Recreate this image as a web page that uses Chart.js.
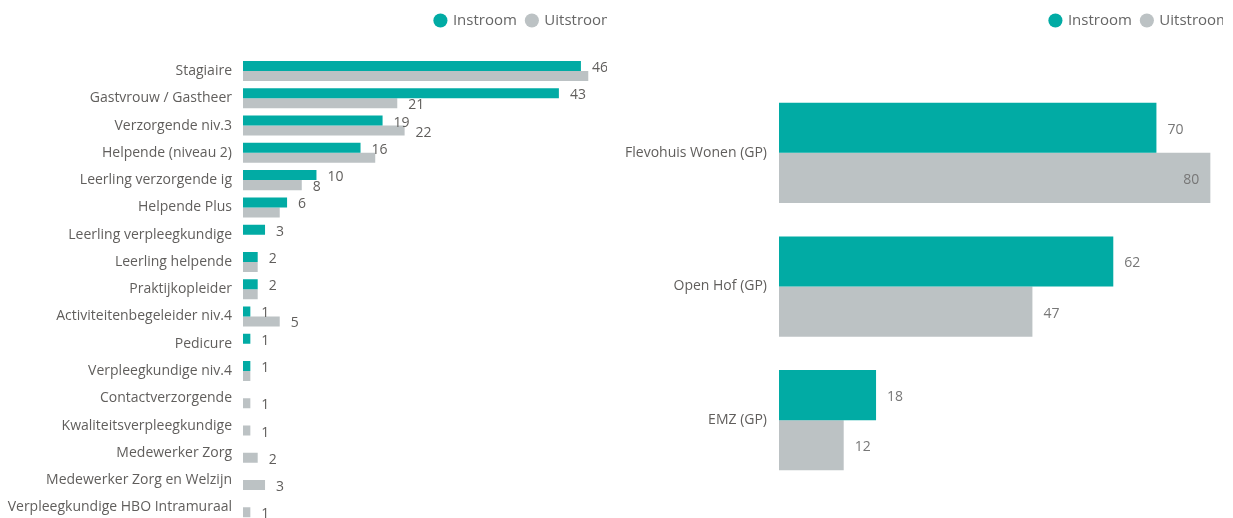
<!DOCTYPE html>
<html>
<head>
<meta charset="utf-8">
<script src="https://cdn.jsdelivr.net/npm/chart.js@4.4.1/dist/chart.umd.min.js"></script>
<style>
  html, body { margin: 0; padding: 0; background: #fff; width: 1233px; height: 518px; overflow: hidden; }
  .pane { position: absolute; top: 0; height: 518px; overflow: hidden; }
  #leftPane { left: 0; width: 607px; }
  #rightPane { left: 607px; width: 616px; }
  canvas { position: absolute; top: 0; }
</style>
</head>
<body>
<div class="pane" id="leftPane"><canvas id="roleChart" width="625" height="521" style="left:0"></canvas></div>
<div class="pane" id="rightPane"><canvas id="siteChart" width="628" height="518" style="left:5px"></canvas></div>
<script>
const seriesNames = ['Instroom', 'Uitstroom'];

const roleLabels = [
  'Stagiaire', 'Gastvrouw / Gastheer', 'Verzorgende niv.3', 'Helpende (niveau 2)',
  'Leerling verzorgende ig', 'Helpende Plus', 'Leerling verpleegkundige', 'Leerling helpende',
  'Praktijkopleider', 'Activiteitenbegeleider niv.4', 'Pedicure', 'Verpleegkundige niv.4',
  'Contactverzorgende', 'Kwaliteitsverpleegkundige', 'Medewerker Zorg',
  'Medewerker Zorg en Welzijn', 'Verpleegkundige HBO Intramuraal',
];
const roleInstroom = [46, 43, 19, 16, 10, 6, 3, 2, 2, 1, 1, 1, null, null, null, null, null];
const roleUitstroom = [47, 21, 22, 18, 8, 5, null, 2, 2, 5, null, 1, 1, 1, 2, 3, 1];

const siteLabels = ['Flevohuis Wonen (GP)', 'Open Hof (GP)', 'EMZ (GP)'];
const siteInstroom = [70, 62, 18];
const siteUitstroom = [80, 47, 12];

const teal = '#01aba4';
const grey = '#bcc2c4';
const textGrey = '#605e5c';

Chart.defaults.font.family = "'Open Sans', sans-serif";

// legend gets a fixed height so the plot starts where the original does
const legendSpacer = {
  id: 'legendSpacer',
  beforeInit(chart, args, opts) {
    const fit = chart.legend.fit;
    chart.legend.fit = function () {
      fit.call(this);
      this.height = opts.height;
    };
  },
};

// value labels next to each bar, skipped when they would collide (like Power BI does)
const barValueLabels = {
  id: 'barValueLabels',
  afterDatasetsDraw(chart, args, opts) {
    const { ctx } = chart;
    ctx.save();
    ctx.font = opts.font;
    ctx.fillStyle = opts.color;
    ctx.textBaseline = 'middle';
    const placed = [];
    chart.data.labels.forEach((label, i) => {
      chart.data.datasets.forEach((ds, di) => {
        const v = ds.data[i];
        if (v == null) return;
        const bar = chart.getDatasetMeta(di).data[i];
        const text = String(v);
        const w = ctx.measureText(text).width;
        let x = bar.x + opts.gap;
        if (x + w > opts.limit) x = bar.x - opts.gap - w;
        const box = { l: x - 1, r: x + w + 1, t: bar.y - opts.size / 2, b: bar.y + opts.size / 2 };
        if (placed.some((p) => box.l < p.r && box.r > p.l && box.t < p.b && box.b > p.t)) return;
        placed.push(box);
        ctx.fillText(text, x, bar.y + 2);
      });
    });
    ctx.restore();
  },
};

function makeChart(canvasId, cfg) {
  return new Chart(document.getElementById(canvasId), {
    type: 'bar',
    data: {
      labels: cfg.labels,
      datasets: [
        {
          label: seriesNames[0],
          data: cfg.instroom,
          backgroundColor: teal,
          borderWidth: 0,
          categoryPercentage: cfg.catPct,
          barPercentage: 1,
        },
        {
          label: seriesNames[1],
          data: cfg.uitstroom,
          backgroundColor: grey,
          borderWidth: 0,
          categoryPercentage: cfg.catPct,
          barPercentage: 1,
        },
      ],
    },
    options: {
      indexAxis: 'y',
      responsive: false,
      animation: false,
      events: [],
      layout: { padding: { top: 3, right: 0, bottom: cfg.bottomPad, left: 0 } },
      scales: {
        x: {
          display: false,
          min: 0,
          max: cfg.xMax,
        },
        y: {
          grid: { display: false, drawTicks: false },
          border: { display: false },
          ticks: {
            color: textGrey,
            padding: cfg.tickPad,
            font: { size: 14 },
            autoSkip: false,
          },
          afterFit: (scale) => {
            scale.width = cfg.axisWidth;
            scale.paddingTop = 0;
            scale.paddingBottom = 0;
          },
        },
      },
      plugins: {
        tooltip: { enabled: false },
        legend: {
          position: 'top',
          align: 'end',
          labels: {
            usePointStyle: true,
            pointStyle: 'circle',
            boxWidth: 10,
            boxHeight: 10,
            padding: 10,
            color: '#666',
            font: { size: 15 },
          },
        },
        legendSpacer: { height: cfg.legendHeight },
        barValueLabels: {
          font: "14px 'Open Sans', sans-serif",
          color: cfg.valueColor,
          gap: 11,
          size: 13,
          limit: cfg.labelLimit,
        },
      },
    },
    plugins: [legendSpacer, barValueLabels],
  });
}

makeChart('roleChart', {
  labels: roleLabels,
  instroom: roleInstroom,
  uitstroom: roleUitstroom,
  catPct: 0.734,
  xMax: 52,
  axisWidth: 243,
  tickPad: 11,
  bottomPad: 0,
  legendHeight: 54.4,
  valueColor: '#605e5c',
  labelLimit: Infinity,
});

makeChart('siteChart', {
  labels: siteLabels,
  instroom: siteInstroom,
  uitstroom: siteUitstroom,
  catPct: 0.75,
  xMax: 85.5,
  axisWidth: 167,
  tickPad: 12,
  bottomPad: 31,
  legendHeight: 83,
  valueColor: '#777',
  labelLimit: 611,
});
</script>
</body>
</html>
